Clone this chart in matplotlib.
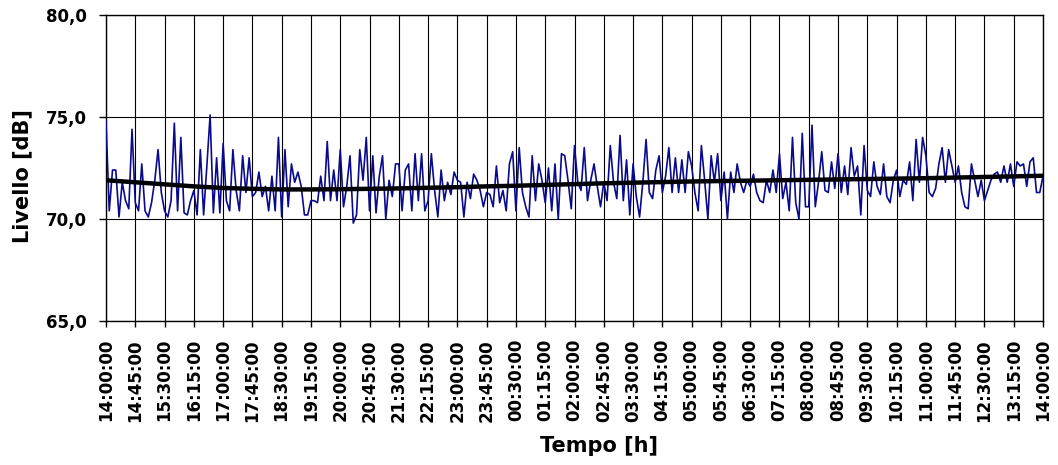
#!/usr/bin/env python3
# coding: utf-8
import matplotlib
matplotlib.use("Agg")
import matplotlib.pyplot as plt
import numpy as np

# livello misurato ogni 5 minuti, dalle 14:00 alle 14:00 del giorno dopo
livello = [
  74.8, 70.4, 72.4, 72.4, 70.1, 71.8, 70.9, 70.5, 74.4, 70.8,
  70.4, 72.7, 70.4, 70.1, 70.8, 71.9, 73.4, 71.3, 70.4, 70.1,
  70.9, 74.7, 70.4, 74.0, 70.3, 70.2, 70.9, 71.4, 70.2, 73.4,
  70.2, 72.6, 75.1, 70.3, 73.0, 70.3, 73.7, 70.9, 70.4, 73.4,
  71.4, 70.4, 73.1, 71.3, 73.0, 71.1, 71.3, 72.3, 71.1, 71.6,
  70.4, 72.1, 70.4, 74.0,
  70.1, 73.4, 70.6, 72.7, 71.8, 72.3, 71.6, 70.2, 70.2, 70.9,
  70.9, 70.8, 72.1, 70.9, 73.8, 70.9, 72.4, 70.9, 73.4, 70.6,
  71.6, 73.1, 69.8, 70.2, 73.4, 71.9, 74.0, 70.4, 73.1, 70.3,
  72.1, 73.1, 70.0, 71.9, 71.1, 72.7, 72.7, 70.4, 72.4, 72.7,
  70.4, 73.2, 70.9, 73.2, 70.4, 70.9, 73.2, 71.4, 70.1, 72.4,
  70.9, 71.8,
  71.2, 72.3, 71.9, 71.8, 70.1, 71.8, 71.0, 72.2, 71.9, 71.4,
  70.6, 71.3, 71.2, 70.6, 72.6, 70.8, 71.4, 70.4, 72.7, 73.3,
  70.4, 73.5, 71.3, 70.6, 70.1, 73.1, 70.9, 72.7, 71.9, 70.8,
  72.5, 70.4, 72.7, 70.0, 73.2, 73.1, 71.9, 70.5, 73.6, 71.8,
  71.4, 73.5, 70.9, 71.9, 72.7, 71.6, 70.6, 71.8, 70.9, 73.6,
  71.8, 71.0, 74.1,
  70.9, 72.9, 70.2, 72.7, 71.1, 70.1, 71.8, 73.9, 71.3, 71.0,
  72.4, 73.1, 71.3, 72.1, 73.5, 71.3, 73.0, 71.3, 72.9, 71.3,
  73.3, 72.6, 71.3, 70.4, 73.6, 71.9, 70.0, 73.1, 71.8, 73.2,
  70.9, 72.3, 70.0, 72.3, 71.3, 72.7, 71.8, 71.3, 71.9, 71.6,
  72.2, 71.3, 70.9, 70.8, 71.9, 71.3, 72.4, 71.3, 73.2, 71.0,
  71.8,
  70.4, 74.0, 70.8, 70.0, 74.2, 70.6, 70.6, 74.6, 70.6, 71.8,
  73.3, 71.4, 71.3, 72.8, 71.5, 73.2, 71.3, 72.6, 71.2, 73.5,
  72.1, 72.6, 70.2, 73.6, 71.4, 71.1, 72.8, 71.6, 71.2, 72.7,
  71.1, 70.8, 71.9, 72.4, 71.1, 71.9, 71.7, 72.8, 70.9, 73.9,
  71.8, 74.0, 73.1, 71.3, 71.1, 71.5, 72.7, 73.5, 71.8, 73.4,
  72.6, 71.8, 72.6,
  71.3, 70.6, 70.5, 72.7, 71.9, 71.1, 71.9, 70.9, 71.4, 71.9,
  72.2, 72.3, 71.8, 72.6, 71.8, 72.7, 71.6, 72.8, 72.6, 72.7,
  71.6, 72.8, 73.0, 71.3, 71.3, 72.1,
]

# linea di tendenza letta ad ogni etichetta (ogni 45 minuti)
tendenza = [
  71.90, 71.80, 71.70, 71.60, 71.52, 71.48, 71.45, 71.45, 71.46, 71.48,
  71.50, 71.53, 71.56, 71.60, 71.63, 71.67, 71.71, 71.75, 71.78, 71.81,
  71.84, 71.86, 71.88, 71.90, 71.92, 71.94, 71.96, 71.98, 72.00, 72.03,
  72.06, 72.09, 72.12,
]

etichette = [
  "14:00:00", "14:45:00", "15:30:00", "16:15:00", "17:00:00", "17:45:00",
  "18:30:00", "19:15:00", "20:00:00", "20:45:00", "21:30:00", "22:15:00",
  "23:00:00", "23:45:00", "00:30:00", "01:15:00", "02:00:00", "02:45:00",
  "03:30:00", "04:15:00", "05:00:00", "05:45:00", "06:30:00", "07:15:00",
  "08:00:00", "08:45:00", "09:30:00", "10:15:00", "11:00:00", "11:45:00",
  "12:30:00", "13:15:00", "14:00:00",
]

y_ticks = [65.0, 70.0, 75.0, 80.0]
y_labels = ["65,0", "70,0", "75,0", "80,0"]

t_min = np.arange(len(livello)) * 5          # minuti dall'inizio
t_tick = np.arange(len(etichette)) * 45

fig = plt.figure(figsize=(10.58, 4.65), dpi=100)
ax = fig.add_axes([106/1058, 1 - 321/465, (1043-106)/1058, (321-15)/465])

ax.plot(t_min, livello, color="#0a0a8c", linewidth=1.2, zorder=3)
ax.plot(t_tick, tendenza, color="black", linewidth=3.2, zorder=4,
        solid_capstyle="butt")

ax.set_xlim(0, 1440)
ax.set_ylim(65, 80)
ax.set_xticks(t_tick)
ax.set_xticklabels(etichette, rotation=90, fontsize=12, fontweight="bold",
                   va="top")
ax.set_yticks(y_ticks)
ax.set_yticklabels(y_labels, fontsize=12, fontweight="bold")
ax.tick_params(axis="x", length=4, width=1, pad=9, direction="out")
ax.tick_params(axis="y", length=5, width=1, pad=9, direction="out")

ax.grid(True, color="black", linewidth=0.8)
ax.set_axisbelow(True)
for s in ax.spines.values():
  s.set_linewidth(1.0)
  s.set_color("black")

fig.text(22/1058, 1 - 176/465, "Livello [dB]", rotation=90, fontsize=15,
         fontweight="bold", ha="center", va="center")
fig.text(599/1058, 1 - 446/465, "Tempo [h]", fontsize=15,
         fontweight="bold", ha="center", va="center")

fig.savefig("out.png", dpi=100)
